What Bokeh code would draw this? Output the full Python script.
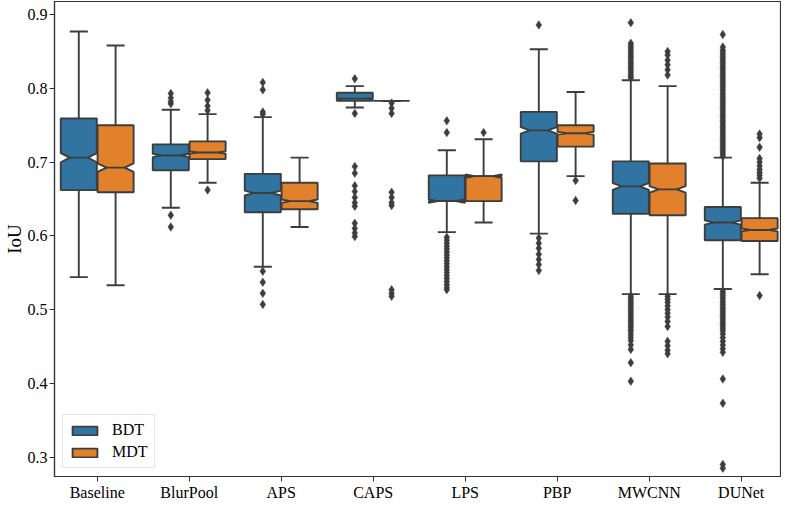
import numpy as np
from bokeh.plotting import figure
from bokeh.models import Range1d, FixedTicker, Legend, LegendItem, PrintfTickFormatter
from bokeh.embed import file_html
from bokeh.resources import INLINE

# ---------------- data ----------------
categories = ["Baseline", "BlurPool", "APS", "CAPS", "LPS", "PBP", "MWCNN", "DUNet"]
series = ["BDT", "MDT"]
y_ticks = [0.3, 0.4, 0.5, 0.6, 0.7, 0.8, 0.9]

bdt_whislo = [0.544, 0.638, 0.558, 0.774, 0.605, 0.603, 0.521, 0.528]
bdt_q1     = [0.662, 0.689, 0.632, 0.783, 0.647, 0.701, 0.630, 0.594]
bdt_med    = [0.706, 0.709, 0.658, 0.786, 0.647, 0.743, 0.667, 0.618]
bdt_q3     = [0.759, 0.724, 0.684, 0.794, 0.682, 0.768, 0.701, 0.639]
bdt_whishi = [0.877, 0.771, 0.761, 0.803, 0.716, 0.853, 0.811, 0.706]

mdt_whislo = [0.533, 0.672, 0.612, 0.783, 0.618, 0.681, 0.521, 0.548]
mdt_q1     = [0.659, 0.704, 0.636, 0.783, 0.647, 0.721, 0.628, 0.593]
mdt_med    = [0.6925, 0.713, 0.647, 0.783, 0.681, 0.739, 0.663, 0.608]
mdt_q3     = [0.750, 0.728, 0.672, 0.783, 0.681, 0.750, 0.698, 0.624]
mdt_whishi = [0.858, 0.765, 0.706, 0.783, 0.731, 0.795, 0.803, 0.672]

bdt_fliers = [
    [],
    [0.793, 0.787, 0.782, 0.779, 0.628, 0.612],
    [0.808, 0.798, 0.768, 0.765, 0.552, 0.537, 0.522, 0.507],
    [0.813, 0.766, 0.694, 0.685, 0.668, 0.660, 0.652, 0.645, 0.640, 0.617, 0.610, 0.604, 0.599],
    [0.756, 0.740, 0.598, 0.594, 0.590, 0.586, 0.582, 0.578, 0.574, 0.570, 0.566, 0.562,
     0.558, 0.554, 0.550, 0.546, 0.542, 0.538, 0.534, 0.530, 0.527],
    [0.886, 0.597, 0.590, 0.583, 0.575, 0.568, 0.561, 0.553],
    [0.889, 0.861, 0.858, 0.855, 0.852, 0.849, 0.846, 0.843, 0.840, 0.837, 0.834, 0.831,
     0.828, 0.825, 0.822, 0.819, 0.816, 0.814,
     0.518, 0.515, 0.512, 0.509, 0.506, 0.503, 0.500, 0.497, 0.494, 0.491, 0.488, 0.485,
     0.482, 0.479, 0.476, 0.473, 0.470, 0.466, 0.462, 0.458, 0.452, 0.446, 0.428, 0.403],
    [0.873, 0.856, 0.852, 0.849, 0.846, 0.843, 0.840, 0.837, 0.834, 0.831, 0.828, 0.825,
     0.822, 0.819, 0.816, 0.813, 0.810, 0.807, 0.804, 0.801, 0.798, 0.795, 0.792, 0.789,
     0.786, 0.783, 0.780, 0.777, 0.774, 0.771, 0.768, 0.765, 0.762, 0.759, 0.756, 0.753,
     0.750, 0.747, 0.744, 0.741, 0.738, 0.735, 0.732, 0.729, 0.726, 0.723, 0.720, 0.717,
     0.714, 0.711, 0.708,
     0.525, 0.522, 0.519, 0.516, 0.513, 0.510, 0.507, 0.504, 0.501, 0.498, 0.495, 0.492,
     0.489, 0.486, 0.483, 0.480, 0.477, 0.474, 0.471, 0.467, 0.462, 0.457, 0.452, 0.447,
     0.442, 0.406, 0.373, 0.290, 0.285],
]
mdt_fliers = [
    [],
    [0.794, 0.784, 0.776, 0.770, 0.662],
    [],
    [0.780, 0.773, 0.766, 0.659, 0.652, 0.645, 0.641, 0.527, 0.522, 0.518],
    [0.740],
    [0.675, 0.648],
    [0.850, 0.845, 0.838, 0.832, 0.825, 0.818,
     0.518, 0.514, 0.510, 0.505, 0.500, 0.495, 0.490, 0.484, 0.477, 0.457, 0.451, 0.445, 0.440],
    [0.738, 0.733, 0.720, 0.705, 0.700, 0.695, 0.690, 0.686, 0.682, 0.678, 0.519],
]
n_samples = 600

# ---------------- style ----------------
colors = {"BDT": "#3274a1", "MDT": "#e1812c"}
gray = "#3d3d3d"
font = "Liberation Serif"
lw = 1.9
box_w = 0.392
offsets = {"BDT": -0.2, "MDT": 0.2}

p = figure(width=781, height=503, output_backend="svg", toolbar_location=None,
           x_range=Range1d(-0.464, 7.427), y_range=Range1d(0.2737, 0.9177),
           min_border_left=30, min_border_right=1, min_border_top=1, min_border_bottom=0)
p.background_fill_color = "white"
p.border_fill_color = "white"
p.outline_line_color = "#333333"
p.outline_line_width = 1.2
p.grid.visible = False

stats = {
    "BDT": (bdt_whislo, bdt_q1, bdt_med, bdt_q3, bdt_whishi, bdt_fliers),
    "MDT": (mdt_whislo, mdt_q1, mdt_med, mdt_q3, mdt_whishi, mdt_fliers),
}
box_renderers = {}
for s in series:
    lo, q1, med, q3, hi, fl = stats[s]
    xs, ys = [], []
    wx, wy0, wy1 = [], [], []
    cx0, cx1, cy = [], [], []
    mx0, mx1, my = [], [], []
    fx, fy = [], []
    for i in range(len(categories)):
        c = i + offsets[s]
        l, r = c - box_w / 2, c + box_w / 2
        nl, nr = c - box_w / 4, c + box_w / 4
        ci = 1.57 * (q3[i] - q1[i]) / np.sqrt(n_samples)
        clo, chi = med[i] - ci, med[i] + ci
        xs.append([l, r, r, nr, r, r, l, l, nl, l])
        ys.append([q1[i], q1[i], clo, med[i], chi, q3[i], q3[i], chi, med[i], clo])
        wx += [c, c]
        wy0 += [q1[i], q3[i]]
        wy1 += [lo[i], hi[i]]
        cx0 += [nl, nl]
        cx1 += [nr, nr]
        cy += [lo[i], hi[i]]
        mx0.append(nl)
        mx1.append(nr)
        my.append(med[i])
        fx += [c] * len(fl[i])
        fy += fl[i]
    p.segment(wx, wy0, wx, wy1, line_color=gray, line_width=lw)
    p.segment(cx0, cy, cx1, cy, line_color=gray, line_width=lw)
    br = p.patches(xs, ys, fill_color=colors[s], line_color=gray, line_width=lw)
    p.segment(mx0, my, mx1, my, line_color=gray, line_width=lw)
    p.scatter(fx, fy, marker="diamond", size=8.5, fill_color=gray, line_color=gray, line_width=0.5)
    box_renderers[s] = br

# axes
p.xaxis.ticker = FixedTicker(ticks=list(range(len(categories))))
p.xaxis.major_label_overrides = {i: c for i, c in enumerate(categories)}
p.yaxis.ticker = FixedTicker(ticks=y_ticks)
p.yaxis.formatter = PrintfTickFormatter(format="%.1f")
for ax in (p.xaxis[0], p.yaxis[0]):
    ax.minor_tick_line_color = None
    ax.major_tick_in = 0
    ax.major_tick_out = 5
    ax.major_tick_line_color = "#333333"
    ax.axis_line_color = "#333333"
    ax.axis_line_width = 1.2
    ax.major_label_text_font = font
    ax.major_label_text_font_size = "16px"
    ax.major_label_text_color = "black"
    ax.major_label_standoff = 2
p.yaxis.axis_label = "IoU"
p.yaxis.axis_label_text_font = font
p.yaxis.axis_label_text_font_size = "19px"
p.yaxis.axis_label_text_font_style = "normal"
p.yaxis.axis_label_text_color = "black"
p.yaxis.axis_label_standoff = 0

legend = Legend(items=[LegendItem(label=s, renderers=[box_renderers[s]]) for s in series],
                location="bottom_left")
legend.glyph_width = 31
legend.glyph_height = 11
legend.label_text_font = font
legend.label_text_font_size = "16px"
legend.label_text_color = "black"
legend.label_standoff = 12
legend.padding = 6
legend.spacing = 4
legend.margin = 8
legend.border_line_color = "#cccccc"
legend.border_line_width = 1
legend.background_fill_alpha = 0.8
p.add_layout(legend)

open("out.html", "w").write(file_html(p, INLINE))
